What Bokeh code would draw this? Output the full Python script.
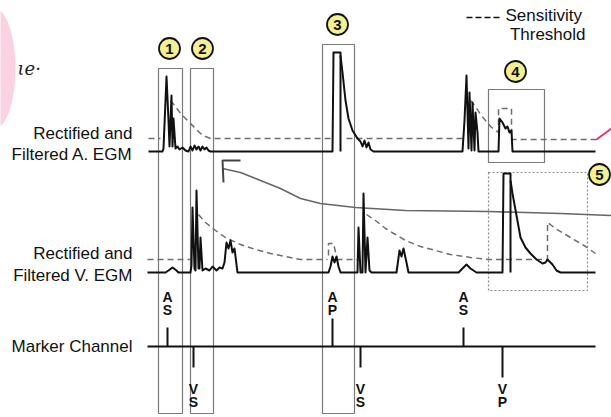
from bokeh.plotting import figure
from bokeh.models import Range1d
from bokeh.core.properties import value
from bokeh.embed import file_html
from bokeh.resources import INLINE

# ---------------- data (image pixel coordinates of the traced diagram) ----------------
# Atrial EGM trace (rectified & filtered)
A_EGM_X = [148, 162, 163, 166, 168, 169, 171, 172, 173, 175, 177, 179, 182, 185, 188, 190, 192, 194, 196,
           198, 200, 202, 204, 206, 208, 210, 332, 333, 340, 340]
A_EGM_Y = [151, 151, 148, 76, 120, 146, 95, 146, 118, 148, 146, 149, 147, 150, 151, 146, 150, 145, 149,
           146, 150, 146, 149, 147, 150, 151, 151, 52, 52, 151]
A_EGM2_X = [340, 342, 345, 348, 352, 357, 360, 362, 364, 366, 368, 370, 373, 462, 464, 466, 468, 469, 471,
            472, 474, 475, 477, 478, 498, 499, 502, 505, 507, 509, 511, 512, 595]
A_EGM2_Y = [55, 72, 100, 118, 130, 138, 141, 146, 140, 147, 142, 149, 151, 151, 120, 75, 148, 92, 150,
            102, 150, 112, 132, 151, 151, 118, 122, 128, 126, 132, 130, 151, 151]

# Atrial sensitivity threshold (dashed)
A_THR = [
    ([148, 160], [138, 138]),
    ([170, 175, 180, 187, 195, 200, 205, 210, 333], [100, 106, 113, 120, 128, 133, 136, 138, 138]),
    ([346, 466], [138, 138]),
    ([470, 475, 480, 485, 490, 495, 498, 498, 511, 511, 598], [100, 106, 114, 120, 126, 130, 132, 108, 108, 139, 139]),
]

# Ventricular EGM trace
V_EGM_X = [147, 165, 168, 172, 176, 178, 190, 191, 192, 194, 195, 196, 198, 199, 200, 202, 205, 209, 212,
           216, 219, 222, 224, 226, 228, 230, 232, 234, 237, 328, 330, 332, 334, 336, 338, 340, 357, 358,
           360, 362, 363, 365, 367, 369, 371, 396, 399, 401, 403, 406, 408, 458, 462, 466, 470, 476, 502,
           503, 510, 510]
V_EGM_Y = [272, 272, 270, 267, 270, 272, 272, 265, 207, 268, 270, 190, 268, 268, 237, 270, 268, 270, 266,
           270, 267, 268, 262, 242, 248, 240, 252, 248, 272, 272, 266, 256, 262, 256, 266, 272, 272, 227,
           272, 272, 193, 272, 237, 270, 272, 272, 250, 256, 248, 262, 272, 272, 268, 264, 268, 272, 272,
           173, 173, 272]
V_EGM2_X = [510, 512, 516, 520, 525, 530, 536, 542, 545, 547, 549, 552, 556, 560, 595]
V_EGM2_Y = [180, 193, 215, 237, 247, 253, 259, 263, 262, 259, 261, 264, 270, 272, 272]

# Ventricular sensitivity threshold (dashed)
V_THR = [
    ([147, 190], [259, 259]),
    ([198, 205, 215, 225, 240, 255, 270, 285, 300, 327], [214, 222, 230, 237, 244, 249, 253, 256, 259, 259]),
    ([328, 328, 333, 336], [255, 243, 243, 256]),
    ([336, 357], [259, 259]),
    ([366, 375, 385, 395, 405, 420, 435, 450, 470, 488, 547, 547, 555, 565, 575, 585, 595],
     [214, 220, 228, 234, 240, 246, 250, 254, 257, 259, 259, 222, 228, 234, 240, 246, 253]),
]

# Hand-drawn gray annotation line
HAND_X = [222, 240, 260, 280, 300, 320, 355, 405, 488, 560, 611]
HAND_Y = [168, 172, 180, 188, 198, 203, 207, 210, 211, 213, 215]
HOOK_X = [223, 222, 240]
HOOK_Y = [182, 160, 160]

# Marker channel events
MARK_X = [167, 193, 332, 360, 463, 502]
MARK_TIP = [327, 367, 318, 367, 327, 377]
MARK_TOP = ["A", "V", "A", "V", "A", "V"]
MARK_BOT = ["S", "S", "P", "S", "S", "P"]
MARK_UP = [True, False, True, False, True, False]
MARKER_BASE = 346

# Highlight boxes
BOX_L = [158, 190, 322, 488]
BOX_R = [182, 213, 354, 544]
BOX_T = [68, 68, 44, 89]
BOX_B = [413, 413, 413, 162]
BOX5 = (488, 587, 172, 290)

# Numbered circles
NUM_X = [169, 202, 337, 515, 599]
NUM_Y = [48, 48, 24, 71, 174]
NUM_T = ["1", "2", "3", "4", "5"]

# Channel labels
LABELS = ["Rectified and", "Filtered A. EGM", "Rectified and", "Filtered V. EGM", "Marker Channel"]
LABEL_Y = [133, 154, 253, 275, 346]

FONT = value("Liberation Sans")

p = figure(width=611, height=417, x_range=Range1d(0, 611), y_range=Range1d(417, 0),
           output_backend="svg", toolbar_location=None, min_border=0)
p.axis.visible = False
p.grid.visible = False
p.outline_line_color = None
p.background_fill_color = "white"

# pink highlighter smudge & handwriting
p.ellipse(x=[-6], y=[68], width=[42], height=[120], fill_color="#fbd2e2", line_color=None)
p.text(x=[17], y=[68], text=["ιe·"], text_font=value("DejaVu Serif"), text_font_style="italic",
       text_font_size="18px", text_baseline="middle", text_color="#222")

# boxes
p.quad(left=BOX_L, right=BOX_R, top=BOX_T, bottom=BOX_B, fill_color=None, line_color="#7a7a7a", line_width=1.2)
p.quad(left=[BOX5[0]], right=[BOX5[1]], top=[BOX5[2]], bottom=[BOX5[3]], fill_color=None,
       line_color="#8a8a8a", line_width=1.2, line_dash="2 2")

# hand drawn line
p.line(HAND_X, HAND_Y, line_color="#666666", line_width=1.6)
p.line(HOOK_X, HOOK_Y, line_color="#444444", line_width=2)

# thresholds
p.multi_line([s[0] for s in A_THR + V_THR], [s[1] for s in A_THR + V_THR], line_color="#6e6e6e",
             line_width=1.5, line_dash="6 4")

# EGM traces
p.multi_line([A_EGM_X, A_EGM2_X, V_EGM_X, V_EGM2_X], [A_EGM_Y, A_EGM2_Y, V_EGM_Y, V_EGM2_Y],
             line_color="#111111", line_width=2, line_join="round")

# red pen mark
p.line([596, 611], [139, 128], line_color="#e8336d", line_width=2)

# marker channel
p.line([147, 595], [MARKER_BASE, MARKER_BASE], line_color="#111111", line_width=2)
p.segment(x0=MARK_X, y0=[MARKER_BASE] * len(MARK_X), x1=MARK_X, y1=MARK_TIP, line_color="#111111", line_width=2)
t1y = [296 if u else 388 for u in MARK_UP]
t2y = [309 if u else 401 for u in MARK_UP]
p.text(x=MARK_X, y=t1y, text=MARK_TOP, text_font=FONT, text_font_style="bold", text_font_size="14px",
       text_align="center", text_baseline="middle", text_color="#111")
p.text(x=MARK_X, y=t2y, text=MARK_BOT, text_font=FONT, text_font_style="bold", text_font_size="14px",
       text_align="center", text_baseline="middle", text_color="#111")

# labels
p.text(x=[132] * len(LABELS), y=LABEL_Y, text=LABELS, text_font=FONT, text_font_size="17px",
       text_align="right", text_baseline="middle", text_color="#111")

# legend
p.line([466, 500], [17, 17], line_color="#111111", line_width=1.5, line_dash="6 3")
p.text(x=[505], y=[15], text=["Sensitivity"], text_font=FONT, text_font_size="17px",
       text_align="left", text_baseline="middle", text_color="#111")
p.text(x=[585], y=[34], text=["Threshold"], text_font=FONT, text_font_size="17px",
       text_align="right", text_baseline="middle", text_color="#111")

# numbered circles
p.scatter(x=NUM_X, y=NUM_Y, size=21, marker="circle", fill_color="#f4ef93", line_color="#111111", line_width=1.8)
p.text(x=NUM_X, y=NUM_Y, text=NUM_T, text_font=FONT, text_font_style="bold", text_font_size="15px",
       text_align="center", text_baseline="middle", text_color="#111")

open("out.html", "w").write(file_html(p, INLINE))
